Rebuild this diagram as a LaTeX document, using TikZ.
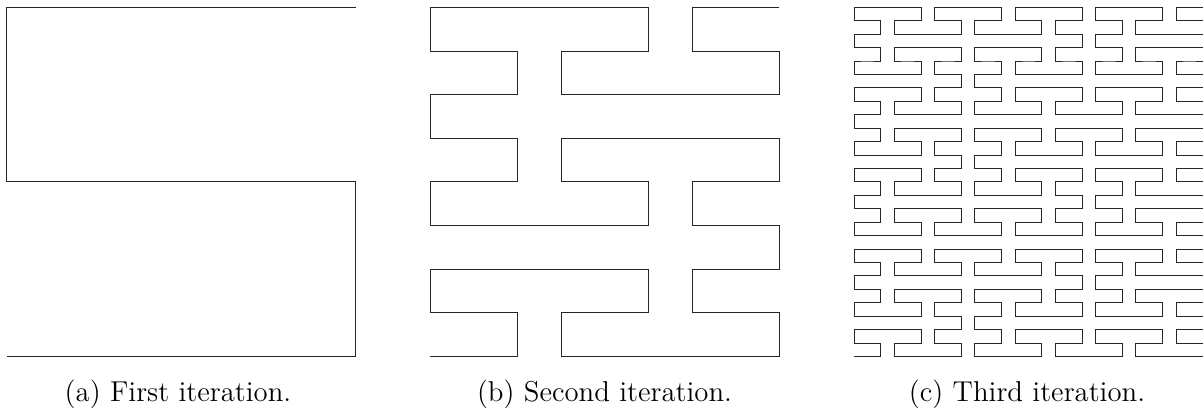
\documentclass[tikz,border=0pt]{standalone}
\usepackage{fontspec}

% ---------------------------------------------------------------
% Peano curve generator.
% \PeanoRec{level}{col}{row}{hflip}{vflip}{child size}
% appends the grid points of the curve (in traversal order) to
% the global list \PeanoPts.  Each 3x3 block is walked as a
% horizontal serpentine starting in its top-right cell.
% ---------------------------------------------------------------
\gdef\PeanoPts{}
\def\PeanoRec#1#2#3#4#5#6{%
  \ifnum#1=0
    \xdef\PeanoPts{\PeanoPts(#2,#3)}%
  \else
    \PeanoSub{#1}{#2}{#3}{#4}{#5}{#6}{2}{0}%
    \PeanoSub{#1}{#2}{#3}{#4}{#5}{#6}{1}{0}%
    \PeanoSub{#1}{#2}{#3}{#4}{#5}{#6}{0}{0}%
    \PeanoSub{#1}{#2}{#3}{#4}{#5}{#6}{0}{1}%
    \PeanoSub{#1}{#2}{#3}{#4}{#5}{#6}{1}{1}%
    \PeanoSub{#1}{#2}{#3}{#4}{#5}{#6}{2}{1}%
    \PeanoSub{#1}{#2}{#3}{#4}{#5}{#6}{2}{2}%
    \PeanoSub{#1}{#2}{#3}{#4}{#5}{#6}{1}{2}%
    \PeanoSub{#1}{#2}{#3}{#4}{#5}{#6}{0}{2}%
  \fi}
% #7 = cell column, #8 = cell row inside the parent block
\def\PeanoSub#1#2#3#4#5#6#7#8{%
  \edef\PeanoNext{\noexpand\PeanoRec
    {\the\numexpr#1-1\relax}%
    {\the\numexpr#2+(#7+#4*(2-2*#7))*#6\relax}%
    {\the\numexpr#3+(#8+#5*(2-2*#8))*#6\relax}%
    {\the\numexpr#4+(1-(#8-1)*(#8-1))-2*#4*(1-(#8-1)*(#8-1))\relax}%
    {\the\numexpr#5+(1-(#7-1)*(#7-1))-2*#5*(1-(#7-1)*(#7-1))\relax}%
    {\the\numexpr#6/3\relax}}%
  \PeanoNext}

% draw the curve of a given level: #1 level, #2 child size
\def\PeanoDrawLevel#1#2{%
  \gdef\PeanoPts{}%
  \PeanoRec{#1}{0}{0}{0}{0}{#2}%
  \edef\PeanoCmd{\noexpand\draw[curve] plot coordinates {\PeanoPts};}%
  \PeanoCmd}

\begin{document}
\begin{tikzpicture}[x=0.4pt,y=-0.4pt,
  curve/.style={line width=0.3pt,black!85,line join=miter},
  caption/.style={anchor=base,inner sep=0pt,font=\fontsize{11.5}{14}\selectfont}]
  \path[use as bounding box] (0,0) rectangle (1203,409);

  % first iteration: 3x3 points, step 349/2 px
  \begin{scope}[shift={(6.7,7.3)},x=69.8pt,y=-69.8pt]
    \PeanoDrawLevel{1}{1}
  \end{scope}

  % second iteration: 9x9 points, step 349/8 px
  \begin{scope}[shift={(430.3,7.3)},x=17.45pt,y=-17.45pt]
    \PeanoDrawLevel{2}{3}
  \end{scope}

  % third iteration: 27x27 points, step 349/26 px
  \begin{scope}[shift={(853.9,7.3)},x=5.3692pt,y=-5.3692pt]
    \PeanoDrawLevel{3}{9}
  \end{scope}

  \node[caption] (capa) at (178,401) {(a) First iteration.};
  \node[caption] (capb) at (604.5,401) {(b) Second iteration.};
  \node[caption] (capc) at (1027,401) {(c) Third iteration.};
\end{tikzpicture}
\end{document}
